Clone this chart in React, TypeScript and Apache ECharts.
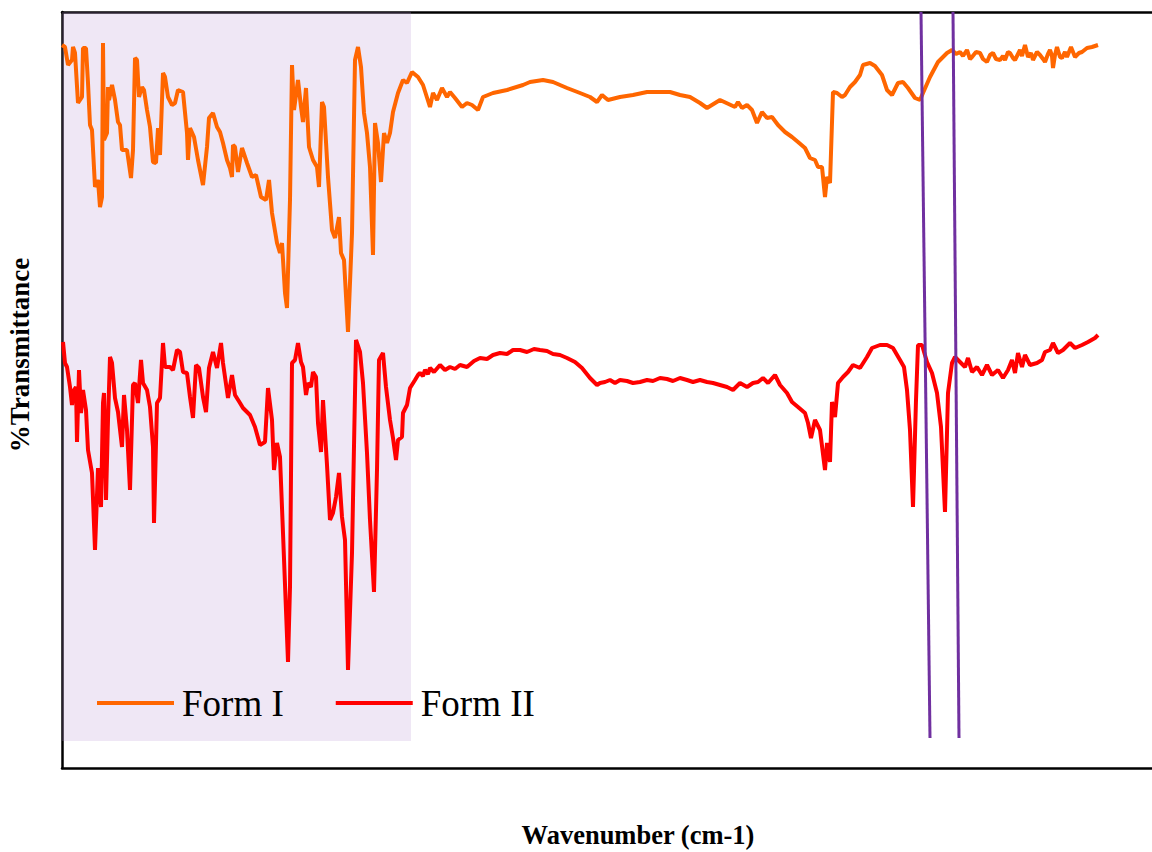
import React, { useEffect, useRef } from "react";
import * as echarts from "echarts";

const seriesNames = ["Form I", "Form II"];
const seriesColors = ["#FF6600", "#FF0000"];

// [wavenumber position (arbitrary units), transmittance (arbitrary units, offset)]
const formI: [number, number][] = [
  [0,723],[3,721],[6,703],[10,708],[11,721],[13,715],[16,665],[20,671],[21,720],[24,720],[26,685],[28,643],[30,638],[33,581],[36,588],[38,561],[40,571],[41,725],[42,628],[45,635],[46,681],[47,668],[50,683],[53,668],[56,646],[58,643],[60,618],[65,618],[69,590],[71,618],[73,710],[75,708],[77,671],[80,681],[82,678],[85,658],[88,641],[91,606],[94,605],[96,640],[98,613],[101,695],[103,691],[106,671],[110,663],[113,665],[116,678],[121,676],[125,635],[126,608],[128,640],[132,631],[136,608],[141,583],[145,621],[147,650],[151,655],[155,641],[158,636],[161,625],[165,608],[168,600],[170,591],[171,623],[173,621],[176,596],[180,620],[185,605],[190,591],[194,593],[199,571],[204,568],[207,588],[210,555],[215,525],[218,515],[220,525],[223,475],[225,460],[228,568],[230,703],[232,658],[236,688],[239,661],[241,646],[244,680],[247,621],[251,608],[255,601],[257,581],[260,666],[262,661],[266,591],[270,538],[273,530],[277,551],[279,515],[282,508],[286,436],[290,535],[293,708],[296,721],[299,701],[302,655],[305,635],[308,601],[311,513],[313,645],[316,625],[319,586],[322,635],[325,625],[328,635],[331,656],[336,675],[341,688],[345,685],[350,696],[356,691],[361,683],[368,661],[371,675],[375,668],[380,680],[385,671],[388,676],[393,670],[400,661],[405,665],[410,663],[416,658],[421,671],[431,675],[445,678],[461,683],[468,686],[481,688],[491,686],[505,680],[518,675],[528,671],[535,666],[540,673],[546,668],[558,671],[571,673],[585,676],[598,676],[608,676],[618,673],[628,671],[638,665],[645,660],[658,668],[673,661],[676,666],[680,660],[685,663],[690,658],[695,645],[700,656],[705,650],[710,651],[716,643],[723,636],[730,631],[736,626],[743,620],[748,610],[753,608],[756,601],[760,601],[763,571],[765,591],[768,585],[771,676],[775,675],[780,671],[783,673],[788,681],[793,686],[798,693],[801,703],[808,705],[813,702],[820,693],[825,678],[830,673],[836,685],[841,686],[846,680],[853,670],[858,668],[861,675],[868,691],[876,706],[885,715],[890,718],[894,714],[898,716],[901,712],[905,718],[908,709],[910,711],[914,716],[918,715],[921,709],[925,706],[928,713],[931,715],[934,709],[938,708],[941,712],[943,708],[946,716],[948,715],[951,710],[953,708],[956,714],[958,718],[960,712],[963,723],[966,711],[969,715],[971,708],[975,716],[978,713],[981,709],[983,706],[986,714],[988,718],[990,712],[991,700],[993,713],[995,721],[998,711],[1000,710],[1003,716],[1005,711],[1009,721],[1013,711],[1017,715],[1020,716],[1025,720],[1030,721],[1036,723]
];

const formII: [number, number][] = [
  [1,426],[3,405],[5,401],[8,381],[10,363],[12,378],[14,381],[15,326],[17,398],[19,355],[21,378],[24,358],[26,318],[30,295],[33,218],[36,300],[39,261],[41,365],[42,375],[44,268],[46,348],[48,411],[50,405],[53,370],[56,356],[60,321],[62,373],[65,338],[68,278],[71,383],[73,385],[76,365],[79,408],[81,385],[85,378],[88,361],[91,321],[92,245],[95,365],[98,370],[101,425],[103,401],[108,401],[111,398],[115,418],[118,416],[121,396],[125,395],[128,371],[131,350],[134,403],[137,400],[141,371],[144,356],[147,400],[151,416],[155,400],[159,425],[161,405],[166,370],[170,393],[173,373],[178,365],[181,360],[188,353],[193,341],[198,323],[203,326],[206,380],[210,348],[212,298],[215,325],[218,311],[221,235],[226,106],[228,181],[230,405],[233,408],[236,425],[239,406],[241,401],[244,373],[246,385],[249,381],[251,396],[254,391],[256,345],[259,316],[261,368],[265,303],[268,248],[271,255],[274,271],[277,295],[280,251],[283,228],[286,98],[290,215],[294,428],[298,416],[301,385],[305,315],[308,248],[312,176],[315,298],[317,408],[321,415],[324,381],[328,348],[331,330],[334,308],[336,328],[340,331],[341,355],[345,363],[348,380],[353,388],[356,393],[358,395],[361,392],[363,398],[366,394],[368,400],[372,396],[378,403],[383,398],[388,401],[393,399],[398,403],[405,401],[412,407],[418,410],[425,409],[431,413],[438,415],[445,414],[451,418],[458,418],[465,416],[472,419],[478,418],[485,417],[491,414],[498,413],[505,410],[513,406],[520,400],[528,390],[532,386],[535,383],[538,385],[543,386],[548,388],[553,385],[558,388],[565,387],[571,385],[578,386],[585,388],[591,387],[598,390],[605,389],[611,387],[618,390],[625,388],[631,386],[638,388],[645,386],[651,385],[658,383],[665,381],[671,378],[678,385],[685,381],[691,385],[696,386],[701,390],[706,385],[713,393],[718,383],[725,375],[730,366],[736,361],[743,355],[746,345],[749,330],[753,348],[758,338],[763,298],[765,325],[768,306],[770,366],[773,351],[776,385],[781,391],[786,396],[791,403],[798,400],[805,411],[810,420],[818,423],[825,423],[831,420],[838,408],[842,401],[845,378],[848,338],[851,261],[854,368],[856,423],[860,423],[865,406],[870,395],[875,375],[879,341],[883,256],[886,375],[890,405],[893,411],[898,406],[903,401],[906,410],[910,396],[915,401],[920,393],[925,403],[930,393],[936,398],[941,390],[946,398],[950,408],[953,395],[956,415],[960,401],[963,413],[968,403],[975,405],[980,408],[983,416],[988,418],[991,425],[996,415],[1001,418],[1008,425],[1013,420],[1020,423],[1026,426],[1033,430],[1036,433]
];

// shaded fingerprint region: [xStart, yStart] -> [xEnd, yEnd]
const fingerprintRegion: [[number, number], [number, number]] = [[0, 27], [349, 756]];
// two slanted marker lines: [top point, bottom point]
const markerLines: [[number, number], [number, number]][] = [
  [[859, 756], [868, 30]],
  [[891, 756], [897, 30]],
];

const axisRange = { xMin: 0, xMax: 1090, yMin: 0, yMax: 756 };
const yTitle = "%Transmittance";
const xTitle = "Wavenumber (cm-1)";

export default function App() {
  const ref = useRef<HTMLDivElement>(null);
  useEffect(() => {
    if (!ref.current) return;
    const chart = echarts.init(ref.current, undefined, { renderer: "svg" });
    const frameLine = { show: true, onZero: false, lineStyle: { color: "#000000", width: 2.5 } };
    const hiddenParts = {
      type: "value" as const,
      axisTick: { show: false },
      axisLabel: { show: false },
      splitLine: { show: false },
    };
    chart.setOption({
      animation: false,
      backgroundColor: "#ffffff",
      grid: {
        left: 62,
        top: 12,
        width: 1090,
        height: 756,
        show: false,
        outerBoundsMode: "none",
      },
      xAxis: [
        { ...hiddenParts, position: "bottom", min: axisRange.xMin, max: axisRange.xMax, axisLine: frameLine },
        { ...hiddenParts, position: "top", min: axisRange.xMin, max: axisRange.xMax, axisLine: frameLine },
      ],
      yAxis: { ...hiddenParts, position: "left", min: axisRange.yMin, max: axisRange.yMax, axisLine: frameLine },
      legend: {
        data: seriesNames,
        left: 97,
        top: 683,
        padding: 0,
        icon: "rect",
        itemWidth: 77,
        itemHeight: 4,
        itemGap: 52,
        textStyle: {
          fontFamily: "Liberation Serif",
          fontSize: 37,
          color: "#000000",
          lineHeight: 40,
          padding: [0, 0, 0, 3],
        },
      },
      series: [
        {
          name: seriesNames[0],
          type: "line",
          data: formI,
          symbol: "none",
          showSymbol: false,
          lineStyle: { color: seriesColors[0], width: 4 },
          itemStyle: { color: seriesColors[0] },
          z: 2,
        },
        {
          name: seriesNames[1],
          type: "line",
          data: formII,
          symbol: "none",
          showSymbol: false,
          lineStyle: { color: seriesColors[1], width: 4 },
          itemStyle: { color: seriesColors[1] },
          z: 2,
        },
        {
          type: "line",
          data: [],
          z: 10,
          silent: true,
          markArea: {
            silent: true,
            itemStyle: { color: "rgba(183,147,210,0.22)" },
            data: [[{ coord: fingerprintRegion[0] }, { coord: fingerprintRegion[1] }]],
          },
          markLine: {
            silent: true,
            symbol: ["none", "none"],
            label: { show: false },
            lineStyle: { color: "#7030A0", width: 3, type: "solid" },
            data: markerLines.map(([a, b]) => [{ coord: a }, { coord: b }]),
          },
        },
      ],
      graphic: [
        {
          type: "text",
          x: 20,
          y: 355,
          rotation: Math.PI / 2,
          style: {
            text: yTitle,
            font: "bold 27px 'Liberation Serif'",
            fill: "#000",
            align: "center",
            verticalAlign: "middle",
          },
        },
        {
          type: "text",
          x: 638,
          y: 835,
          style: {
            text: xTitle,
            font: "bold 26.5px 'Liberation Serif'",
            fill: "#000",
            align: "center",
            verticalAlign: "middle",
          },
        },
      ],
    });
    return () => chart.dispose();
  }, []);
  return (
    <div
      ref={ref}
      style={{ position: "fixed", left: 0, top: 0, width: 1152, height: 852 }}
    />
  );
}
